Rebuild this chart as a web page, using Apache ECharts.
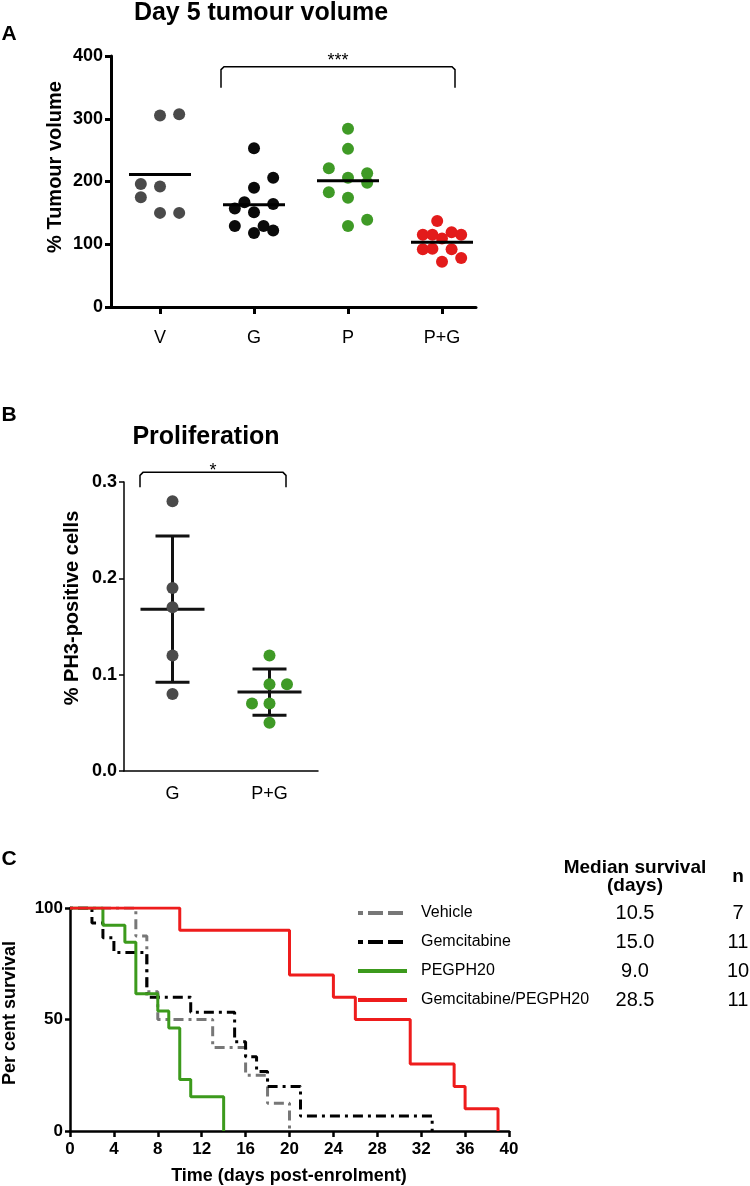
<!DOCTYPE html>
<html><head><meta charset="utf-8">
<script src="https://cdn.jsdelivr.net/npm/echarts@6/dist/echarts.min.js"></script>
<style>html,body{margin:0;padding:0;background:#fff}#c{width:750px;height:1186px}</style>
</head><body><div id="c"></div>
<script>
// ---------- Panel A: Day 5 tumour volume ----------
const catsA = ['V', 'G', 'P', 'P+G'];
const volV  = [305, 307, 196, 192, 175, 150, 150];
const volG  = [253, 206, 190, 167, 157, 164, 151, 129, 129, 118, 122];
const volP  = [284, 252, 221, 213, 206, 198, 183, 174, 139, 129];
const volPG = [137, 115, 115, 119, 115, 109, 92, 93, 92, 78, 72];
const meanA = [211, 163, 201, 103];
const sigA = '***';
// ---------- Panel B: Proliferation ----------
const catsB = ['G', 'P+G'];
const ph3G  = [0.28, 0.19, 0.17, 0.12, 0.08];
const ph3PG = [0.12, 0.09, 0.09, 0.07, 0.07, 0.05];
const meanB = [0.168, 0.082];
const sdB   = [0.076, 0.024];
const sigB = '*';
// ---------- Panel C: survival ----------
const survVehicle = [[0,100],[6,87.5],[7,62.5],[8,50],[13,37.5],[16,25],[18,12.5],[20,0]];
const survGem     = [[0,100],[2,93.3],[3,86.7],[4,80],[7,60],[11,53.3],[15,40],[16,33.3],[17,26.7],[18,20],[21,6.7],[33,0]];
const survPeg     = [[0,100],[3,92.3],[5,84.6],[6,61.5],[8,53.8],[9,46.2],[10,23.1],[11,15.4],[14,0]];
const survCombo   = [[0,100],[10,90],[20,70],[24,60],[26,50],[31,30],[35,20],[36,10],[39,0]];
const groupNames  = ['Vehicle', 'Gemcitabine', 'PEGPH20', 'Gemcitabine/PEGPH20'];
const medianSurv  = ['10.5', '15.0', '9.0', '28.5'];
const nAnimals    = ['7', '11', '10', '11'];

// ---------- layout (not data) ----------
const jitA = [
  [0, 2, -2, 0, -2, 0, 2],
  [0, 2, 0, -1, -2, 2, 0, -2, 1, 0, 2],
  [0, 0, -2, 2, 0, 2, -2, 0, 2, 0],
  [-0.5, -2, -1, 1, 2, 0, -2, -1, 1, 2, 0]
];
const jitStepA = 0.102;
const jitB = [[0,0,0,0,0],[0,0,1,-1,0,0]];
const jitStepB = 17.5;
const FONT = "'Liberation Sans', Arial, Helvetica, sans-serif";
const colA = ['#4a4a4a', '#0a0a0a', '#3f9a26', '#e31b1b'];
const colB = ['#4a4a4a', '#3f9a26'];
const lineCols = ['#777777', '#000000', '#3c9a1c', '#ee1c1c'];
const dashCurve = [3, 5, 10, 5];
const legendDash = [[5,5,15,5,15,100],[5,5,15,5,15,100],null,null];

const chart = echarts.init(document.getElementById('c'), null, {renderer: 'canvas'});

const valsA = [volV, volG, volP, volPG];
const scatterA = valsA.map((vals, g) => ({
  type: 'scatter', xAxisIndex: 0, yAxisIndex: 0, symbolSize: 12, z: 3,
  itemStyle: {color: colA[g], opacity: 1},
  data: vals.map((v, k) => [g + jitA[g][k] * jitStepA, v]),
  silent: true
}));

const valsB = [ph3G, ph3PG];
const scatterB = valsB.map((vals, g) => ({
  type: 'scatter', xAxisIndex: 1, yAxisIndex: 1, symbolSize: 12, z: 4,
  itemStyle: {color: colB[g], opacity: 1},
  data: vals.map((v, k) => ({value: [g, v], symbolOffset: [jitB[g][k] * jitStepB, 0]})),
  silent: true
}));

const survAll = [survVehicle, survGem, survPeg, survCombo];
const linesC = survAll.map((d, i) => ({
  type: 'line', name: groupNames[i], xAxisIndex: 2, yAxisIndex: 2, step: 'end',
  symbol: 'none', z: 2 + i, silent: true, animation: false,
  lineStyle: {color: lineCols[i], width: 3, type: i < 2 ? dashCurve : 'solid', cap: 'butt'},
  data: d
}));

function bracket(xl, xr, top, drop, label, txtDy) {
  return [
    {type: 'polyline', shape: {points: [[xl, top + drop], [xl, top + 3], [xl + 3, top], [xr - 3, top], [xr, top + 3], [xr, top + drop]]},
     style: {stroke: '#000', lineWidth: 1.5, fill: null}},
    {type: 'text', x: (xl + xr) / 2, y: top + txtDy,
     style: {text: label, fill: '#000', font: '18px ' + FONT, align: 'center', verticalAlign: 'middle'}}
  ];
}

const option = {
  animation: false,
  backgroundColor: '#fff',
  textStyle: {fontFamily: FONT},
  grid: [
    {left: 111, right: 274, top: 56, bottom: 879},
    {left: 124, right: 432, top: 482, bottom: 415},
    {left: 70, right: 241, top: 908, bottom: 55}
  ],
  xAxis: [
    {gridIndex: 0, type: 'value', min: -0.5213, max: 3.3617,
     axisLine: {onZero: false, lineStyle: {color: '#000', width: 3}},
     axisTick: {customValues: [0, 1, 2, 3], length: 7, lineStyle: {width: 3, color: '#000'}},
     axisLabel: {customValues: [0, 1, 2, 3], formatter: v => catsA[Math.round(v)], color: '#000', fontSize: 18, margin: 22, fontFamily: FONT},
     splitLine: {show: false}},
    {gridIndex: 1, type: 'category', data: catsB, boundaryGap: true,
     axisLine: {onZero: false, lineStyle: {color: '#000', width: 1.5}},
     axisTick: {alignWithLabel: true, length: 5, lineStyle: {width: 1.5, color: '#000'}},
     axisLabel: {color: '#000', fontSize: 18, margin: 14, fontFamily: FONT}},
    {gridIndex: 2, type: 'value', min: 0, max: 40, interval: 4,
     axisLine: {onZero: false, lineStyle: {color: '#000', width: 2.5}},
     axisTick: {length: 6, lineStyle: {width: 2.5, color: '#000'}},
     axisLabel: {color: '#000', fontSize: 17, fontWeight: 'bold', margin: 10, fontFamily: FONT},
     splitLine: {show: false}}
  ],
  yAxis: [
    {gridIndex: 0, type: 'value', min: 0, max: 400, interval: 100,
     axisLine: {show: true, onZero: false, lineStyle: {color: '#000', width: 3}},
     axisTick: {show: true, length: 6, lineStyle: {width: 3, color: '#000'}},
     axisLabel: {color: '#000', fontSize: 18, fontWeight: 'bold', margin: 8, fontFamily: FONT},
     splitLine: {show: false}},
    {gridIndex: 1, type: 'value', min: 0, max: 0.3, interval: 0.1,
     axisLine: {show: true, onZero: false, lineStyle: {color: '#000', width: 1.5}},
     axisTick: {show: true, length: 5, lineStyle: {width: 1.5, color: '#000'}},
     axisLabel: {color: '#000', fontSize: 18, fontWeight: 'bold', margin: 7, fontFamily: FONT, formatter: v => v.toFixed(1)},
     splitLine: {show: false}},
    {gridIndex: 2, type: 'value', min: 0, max: 100, interval: 50,
     axisLine: {show: true, onZero: false, lineStyle: {color: '#000', width: 2.5}},
     axisTick: {show: true, length: 5, lineStyle: {width: 2.5, color: '#000'}},
     axisLabel: {color: '#000', fontSize: 17, fontWeight: 'bold', margin: 7, fontFamily: FONT},
     splitLine: {show: false}}
  ],
  series: [
    ...scatterA,
    {type: 'custom', xAxisIndex: 0, yAxisIndex: 0, z: 5, silent: true, clip: false,
     data: meanA.map((m, i) => [i, m]),
     renderItem: (p, api) => {
       const c = api.coord([api.value(0), api.value(1)]);
       return {type: 'line', shape: {x1: c[0] - 31, y1: c[1], x2: c[0] + 31, y2: c[1]}, style: {stroke: '#000', lineWidth: 3}};
     }},
    {type: 'custom', xAxisIndex: 0, yAxisIndex: 0, z: 5, silent: true, clip: false,
     data: [[1, 3, 383]],
     renderItem: (p, api) => {
       const a = api.coord([api.value(0), api.value(2)]);
       const b = api.coord([api.value(1), api.value(2)]);
       return {type: 'group', children: bracket(a[0] - 33, b[0] + 13, a[1], 21, sigA, -6)};
     }},
    {type: 'custom', xAxisIndex: 1, yAxisIndex: 1, z: 3, silent: true, clip: false,
     data: meanB.map((m, i) => [i, m, sdB[i]]),
     renderItem: (p, api) => {
       const i = api.value(0), m = api.value(1), s = api.value(2);
       const c = api.coord([i, m]);
       const t = api.coord([i, m + s]);
       const b = api.coord([i, m - s]);
       const st = {stroke: '#111', lineWidth: 3};
       return {type: 'group', children: [
         {type: 'line', shape: {x1: c[0], y1: t[1], x2: c[0], y2: b[1]}, style: st},
         {type: 'line', shape: {x1: c[0] - 17, y1: t[1], x2: c[0] + 17, y2: t[1]}, style: st},
         {type: 'line', shape: {x1: c[0] - 17, y1: b[1], x2: c[0] + 17, y2: b[1]}, style: st},
         {type: 'line', shape: {x1: c[0] - 32, y1: c[1], x2: c[0] + 32, y2: c[1]}, style: st}
       ]};
     }},
    ...scatterB,
    {type: 'custom', xAxisIndex: 1, yAxisIndex: 1, z: 5, silent: true, clip: false,
     data: [[0, 1, 0.31]],
     renderItem: (p, api) => {
       const a = api.coord([api.value(0), api.value(2)]);
       const b = api.coord([api.value(1), api.value(2)]);
       return {type: 'group', children: bracket(a[0] - 32.5, b[0] + 16.5, a[1], 15, sigB, -1)};
     }},
    ...linesC
  ],
  graphic: []
};

// Titles, panel letters, axis names, legend table
const g = [];
function txt(text, x, y, size, bold, opts) {
  opts = opts || {};
  g.push({type: 'text', x: x, y: y, rotation: opts.rot || 0, silent: true,
    style: {text: text, fill: '#000', font: (bold ? 'bold ' : '') + size + 'px ' + FONT,
            align: opts.align || 'center', verticalAlign: 'middle'}});
}
txt('Day 5 tumour volume', 261, 13, 25, true);
txt('A', 9, 34, 21, true);
txt('% Tumour volume', 55, 167, 20, true, {rot: Math.PI / 2});
txt('B', 9, 415, 21, true);
txt('Proliferation', 206, 437, 25, true);
txt('% PH3-positive cells', 72, 608, 20, true, {rot: Math.PI / 2});
txt('C', 9, 859, 21, true);
txt('Per cent survival', 10, 1013, 18, true, {rot: Math.PI / 2});
txt('Time (days post-enrolment)', 289, 1176, 18, true);
txt('Median survival', 635, 868, 19, true);
txt('(days)', 635, 886, 19, true);
txt('n', 738, 877, 19, true);
const rowsY = [913, 942, 971, 1000];
groupNames.forEach((nm, i) => {
  const y = rowsY[i];
  g.push({type: 'line', silent: true, shape: {x1: 358, y1: y, x2: 407, y2: y},
    style: {stroke: lineCols[i], lineWidth: 4, lineDash: legendDash[i] || null, lineCap: 'butt'}});
  txt(nm, 421, y, 16, false, {align: 'left'});
  txt(medianSurv[i], 635, y, 20, false);
  txt(nAnimals[i], 738, y, 20, false);
});
option.graphic = g;
chart.setOption(option);
</script>
</body></html>
